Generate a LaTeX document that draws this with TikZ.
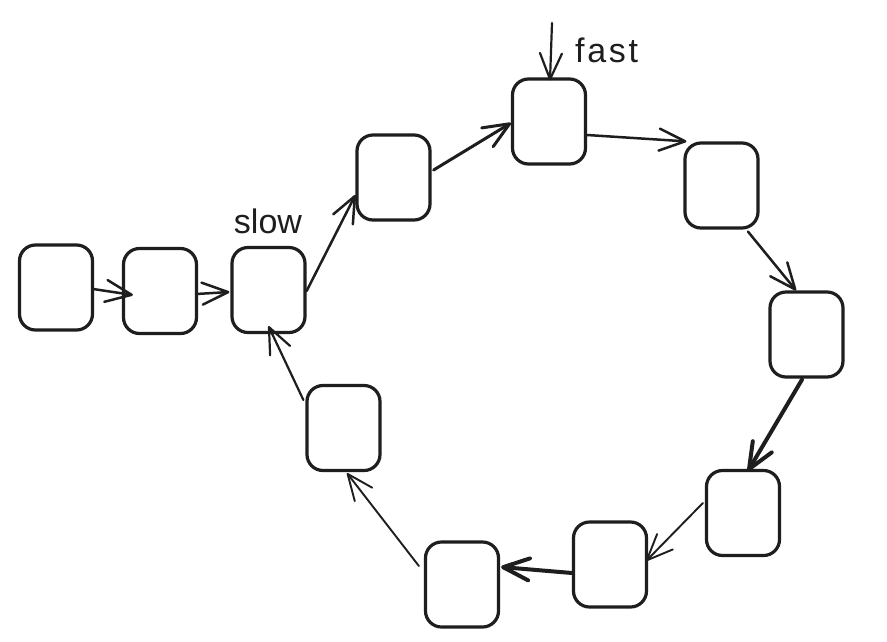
\documentclass[tikz,border=0pt]{standalone}
\usepackage{fontspec}
\setmainfont{Liberation Sans}
\usetikzlibrary{arrows.meta,calc}
\definecolor{ink}{HTML}{1E1E1E}
\begin{document}
\begin{tikzpicture}[x=1pt,y=-1pt,
  cell/.style={draw=ink, line width=3.2pt, rounded corners=16pt,
    minimum width=73pt, minimum height=85pt, inner sep=0pt},
  link/.style={draw=ink, line width=2.5pt, line cap=round,
    -{Straight Barb[length=26pt,width=22pt,round]}},
  heavy/.style={line width=4pt},
  light/.style={line width=1.9pt},
  tag/.style={text=ink, font=\fontsize{34}{40}\selectfont, inner sep=0pt}]

\fill[white] (0,0) rectangle (887,641);
\useasboundingbox (0,0) rectangle (887,641);

% list cells
\node[cell] (A) at (56,287.5) {};
\node[cell] (B) at (160,291) {};
\node[cell] (C) at (268.5,290) {};
\node[cell] (D) at (393.5,177.5) {};
\node[cell] (E) at (549,121.5) {};
\node[cell] (F) at (721.5,185.5) {};
\node[cell] (G) at (806.5,334.5) {};
\node[cell] (H) at (743,513) {};
\node[cell] (I) at (610,564.5) {};
\node[cell] (J) at (462,584.5) {};
\node[cell] (K) at (343.5,428) {};

% pointer labels
\node[tag, anchor=base] (slow) at (268,233) {slow};
\node[tag, anchor=base west] (fast) at (575,62) {\addfontfeature{LetterSpace=8}fast};
\coordinate (fastin) at (552,23);

% links
\draw[link] ($(A.east)+(-1,1.5)$) -- ($(B.west)+(11,4)$);
\draw[link] ($(B.east)+(-2,3)$) -- ($(C.west)+(-1,2)$);
\draw[link] ($(C.east)+(0,1)$) -- ($(D.west)+(0,17.5)$);
\draw[link, line width=3pt] ($(D.east)+(2,-7.5)$) -- ($(E.west)+(0,1.5)$);
\draw[link] ($(E.east)+(0,13.5)$) -- ($(F.north west)+(3,0)$);
\draw[link] ($(F.south)+(26.5,2)$) -- ($(G.north)+(-10.5,0)$);
\draw[link, heavy] ($(G.south)+(-4.5,1)$) -- ($(H.north)+(5,2)$);
\draw[link, light] ($(H.west)+(-2,-10)$) -- ($(I.east)+(-2,-3.5)$);
\draw[link, heavy] ($(I.west)+(0,8.5)$) -- ($(J.east)+(1,-17.5)$);
\draw[link, light] ($(J.west)+(-5,-18.5)$) -- ($(K.south)+(3.5,1)$);
\draw[link, line width=2.2pt] ($(K.west)+(-2,-28)$) -- ($(C.south)+(0,-8)$);
\draw[link, line width=2.2pt] (fastin) -- ($(E.north)+(1,3)$);
\end{tikzpicture}
\end{document}
